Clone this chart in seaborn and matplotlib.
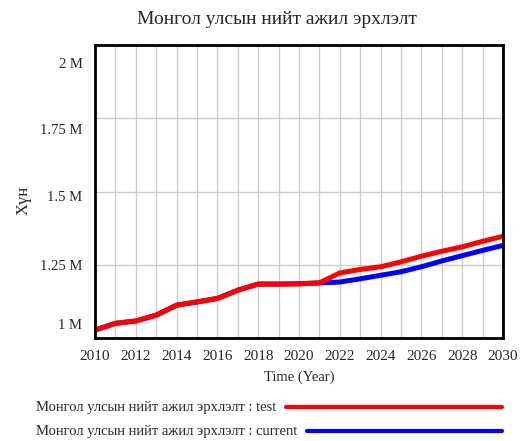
import numpy as np
import pandas as pd
import matplotlib
matplotlib.use('Agg')
import matplotlib.pyplot as plt
import matplotlib.transforms as mtransforms
from matplotlib.lines import Line2D
from matplotlib.ticker import MultipleLocator
import seaborn as sns

years = list(range(2010, 2031))
test_vals = [1.027, 1.050, 1.058, 1.078, 1.112, 1.123, 1.135, 1.163, 1.184, 1.184,
             1.185, 1.188, 1.222, 1.234, 1.243, 1.260, 1.279, 1.296, 1.311, 1.330, 1.347]
current_vals = [1.027, 1.050, 1.058, 1.078, 1.112, 1.123, 1.135, 1.163, 1.184, 1.184,
                1.185, 1.188, 1.191, 1.202, 1.214, 1.226, 1.243, 1.263, 1.281, 1.299, 1.316]
y_ticks = [1.0, 1.25, 1.5, 1.75, 2.0]
y_tick_labels = ["1 M", "1.25 M", "1.5 M", "1.75 M", "2 M"]
x_ticks = list(range(2010, 2031, 2))

title = "Монгол улсын нийт ажил эрхлэлт"
series_names = ["Монгол улсын нийт ажил эрхлэлт : test",
                "Монгол улсын нийт ажил эрхлэлт : current"]
colors = {"test": "#ff0000", "current": "#0000ff"}

df = pd.DataFrame({
    "year": years * 2,
    "value": [v * 1e6 for v in current_vals] + [v * 1e6 for v in test_vals],
    "run": ["current"] * len(years) + ["test"] * len(years),
})

sns.set_theme(style="white")
plt.rcParams['font.family'] = ['Liberation Serif', 'DejaVu Serif']

fig = plt.figure(figsize=(5.21, 4.41), dpi=100)
ax = fig.add_axes([95 / 521, 1 - 338 / 441, 408 / 521, 293 / 441])

sns.lineplot(data=df, x="year", y="value", hue="run", palette=colors,
             hue_order=["current", "test"], linewidth=3.6, legend=False, ax=ax)

ax.set_xlim(2010, 2030)
ax.set_ylim(1e6, 2e6)
ax.set_xticks(x_ticks)
ax.set_xticklabels([str(x) for x in x_ticks], fontsize=11)
ax.xaxis.set_minor_locator(MultipleLocator(1))
ax.set_yticks([t * 1e6 for t in y_ticks])
ax.set_yticklabels(y_tick_labels, fontsize=10.5)
ax.grid(True, which="both", axis="x", color="#cccccc", linewidth=1)
ax.grid(True, which="major", axis="y", color="#cccccc", linewidth=1)
ax.tick_params(axis="both", which="both", length=0)
ax.tick_params(axis="x", pad=9)
ax.tick_params(axis="y", pad=9)

# Vensim-style label offsets (pulled toward the middle)
offsets = [-10, 0, 3, 8, 13]
for lab, off in zip(ax.get_yticklabels(), offsets):
    lab.set_transform(lab.get_transform() + mtransforms.ScaledTranslation(0, -off / 72, fig.dpi_scale_trans))

for sp in ax.spines.values():
    sp.set_color("black")
    sp.set_linewidth(2)

ax.set_xlabel("Time (Year)", fontsize=10.5, labelpad=5)
ax.set_ylabel("Хүн", fontsize=12, labelpad=0)
ax.yaxis.set_label_coords(-63 / 408, 0.47)
fig.text(277 / 521, 1 - 19 / 441, title, fontsize=14, ha="center", va="center")

# legend below, text on the left and line to the right
t1 = fig.text(36 / 521, 1 - 408 / 441, series_names[0], fontsize=10.5, va="center", ha="left")
t2 = fig.text(36 / 521, 1 - 432 / 441, series_names[1], fontsize=10.5, va="center", ha="left")
renderer = fig.canvas.get_renderer()
for txt, key, yy in [(t1, "test", 407), (t2, "current", 431)]:
    x0 = txt.get_window_extent(renderer).x1 + 10
    fig.add_artist(Line2D([x0 / 521, 502 / 521], [1 - yy / 441] * 2, color=colors[key],
                          linewidth=3, transform=fig.transFigure))

fig.savefig("out.png", dpi=100)
plt.close(fig)
